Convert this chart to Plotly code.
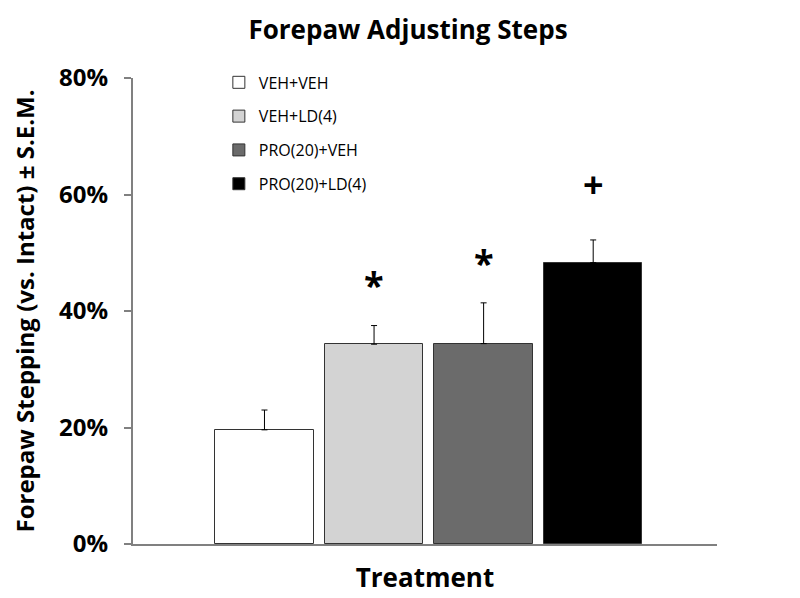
import plotly.graph_objects as go

groups = ["VEH+VEH", "VEH+LD(4)", "PRO(20)+VEH", "PRO(20)+LD(4)"]
means = [19.6, 34.3, 34.4, 48.3]
sem = [3.4, 3.2, 7.0, 3.9]
marks = ["", "*", "*", "+"]
mark_y = [None, 44.6, 48.4, 61.7]
colors = ["#ffffff", "#d3d3d3", "#6b6b6b", "#000000"]
y_ticks = [0, 20, 40, 60, 80]
y_labels = ["0%", "20%", "40%", "60%", "80%"]

FONT = "Open Sans"

fig = go.Figure()
for i, g in enumerate(groups):
    fig.add_trace(go.Bar(
        x=[i], y=[means[i]], name=g, width=0.9,
        marker=dict(color=colors[i], line=dict(color="#333333", width=1)),
        error_y=dict(type="data", array=[sem[i]], arrayminus=[0], symmetric=False,
                     color="#000000", thickness=1, width=3),
        legendgroup=g,
    ))

for i, m in enumerate(marks):
    if m:
        fig.add_annotation(x=i, y=mark_y[i], text="<b>%s</b>" % m, showarrow=False,
                           font=dict(family=FONT, size=36, color="black"),
                           xref="x", yref="y", yanchor="middle")

fig.update_layout(
    width=800, height=598,
    paper_bgcolor="white", plot_bgcolor="white",
    margin=dict(l=125, r=91, t=70, b=62, autoexpand=False),
    title=dict(text="<b>Forepaw Adjusting Steps</b>", x=0.5, xref="container",
               y=0.964, yref="container", yanchor="middle",
               font=dict(family=FONT, size=26, color="black")),
    showlegend=True,
    legend=dict(x=0.147, y=1.027, xanchor="left", yanchor="top",
                font=dict(family=FONT, size=16, color="black"),
                bgcolor="rgba(0,0,0,0)", traceorder="grouped", tracegroupgap=10,
                itemwidth=30),
    bargap=0,
    font=dict(family=FONT),
)
fig.update_xaxes(range=[-1.2, 4.13], showticklabels=False, ticks="",
                 showline=True, linecolor="#808080", linewidth=2, showgrid=False,
                 zeroline=False,
                 title=dict(text="<b>Treatment</b>", standoff=24,
                            font=dict(family=FONT, size=26, color="black")))
fig.update_yaxes(range=[0, 80], tickvals=y_ticks,
                 ticktext=["<b>%s</b>" % t for t in y_labels],
                 ticks="outside", ticklen=7, tickcolor="#808080", tickwidth=2,
                 ticklabelstandoff=11,
                 showline=True, linecolor="#808080", linewidth=2, showgrid=False,
                 zeroline=False,
                 tickfont=dict(family=FONT, size=24, color="black"),
                 title=dict(text="<b>Forepaw Stepping (vs. Intact) ± S.E.M.</b>", standoff=19,
                            font=dict(family=FONT, size=24, color="black")))

fig.write_html("out.html")
